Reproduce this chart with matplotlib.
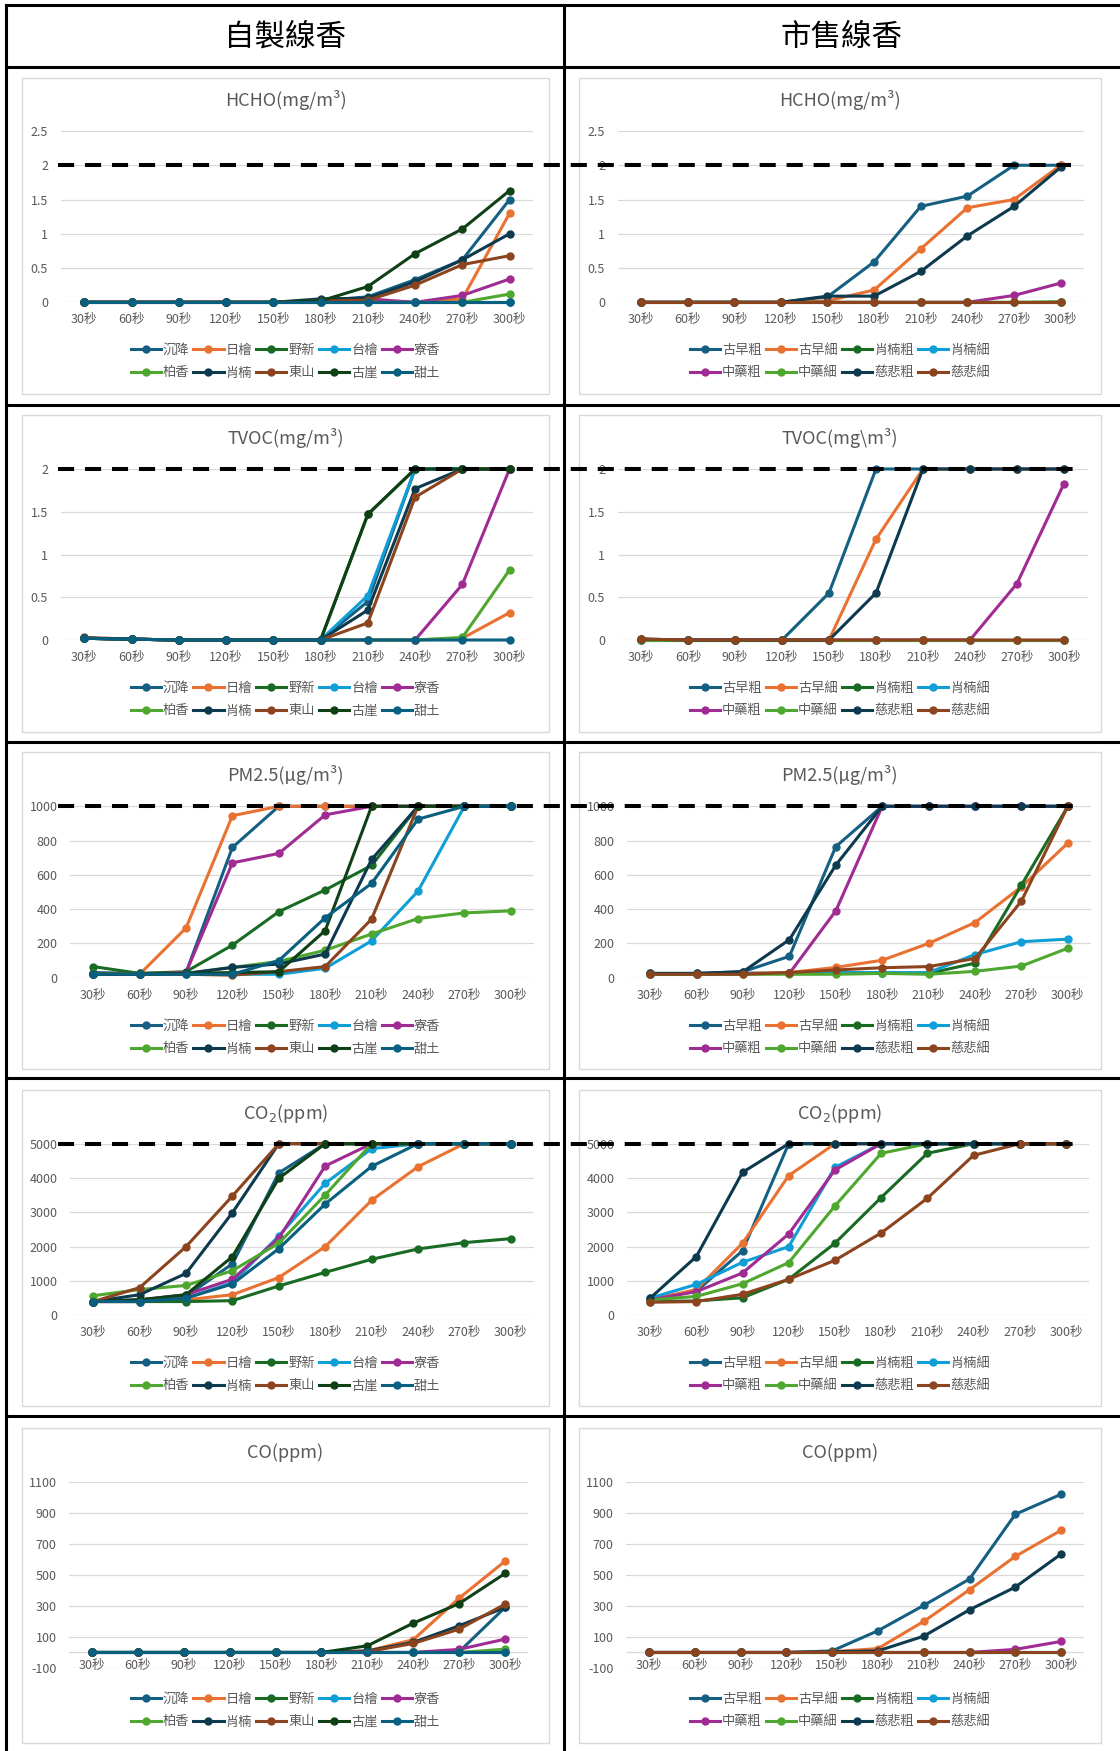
import matplotlib
matplotlib.use('Agg')
import matplotlib.pyplot as plt
from matplotlib.lines import Line2D
from matplotlib.patches import Rectangle
from matplotlib.transforms import blended_transform_factory

plt.rcParams['font.family'] = ['Noto Sans CJK TC', 'DejaVu Sans']

# ---- data ----
times = ['30秒', '60秒', '90秒', '120秒', '150秒', '180秒', '210秒', '240秒', '270秒', '300秒']
self_names = ['沉降', '日檜', '野新', '台檜', '寮香', '柏香', '肖楠', '東山', '古崖', '甜土']
store_names = ['古早粗', '古早細', '肖楠粗', '肖楠細', '中藥粗', '中藥細', '慈悲粗', '慈悲細']
limits = [2, 2, 1000, 5000]   # HCHO, TVOC, PM2.5, CO2 thresholds

hcho_self = [
    [0, 0, 0, 0, 0, 0.02, 0.08, 0.33, 0.62, 1.50],
    [0, 0, 0, 0, 0, 0, 0, 0, 0.05, 1.30],
    [0, 0, 0, 0, 0, 0, 0, 0, 0, 0],
    [0, 0, 0, 0, 0, 0, 0, 0, 0, 0],
    [0, 0, 0, 0, 0, 0, 0.05, 0, 0.10, 0.34],
    [0, 0, 0, 0, 0, 0, 0, 0, 0, 0.12],
    [0, 0, 0, 0, 0, 0.05, 0.06, 0.30, 0.62, 1.00],
    [0, 0, 0, 0, 0, 0.02, 0.03, 0.25, 0.55, 0.68],
    [0, 0, 0, 0, 0, 0.02, 0.23, 0.71, 1.07, 1.63],
    [0, 0, 0, 0, 0, 0, 0, 0, 0, 0],
]
hcho_store = [
    [0, 0, 0, 0, 0.08, 0.59, 1.40, 1.55, 2.00, 2.00],
    [0, 0, 0, 0, 0.02, 0.18, 0.78, 1.38, 1.50, 2.00],
    [0, 0, 0, 0, 0, 0, 0, 0, 0, 0],
    [0, 0, 0, 0, 0, 0, 0, 0, 0, 0],
    [0, 0, 0, 0, 0, 0, 0, 0, 0.10, 0.28],
    [0, 0, 0, 0, 0, 0, 0, 0, 0, 0.01],
    [0, 0, 0, 0, 0.09, 0.09, 0.45, 0.97, 1.40, 1.97],
    [0, 0, 0, 0, 0, 0, 0, 0, 0, 0],
]
tvoc_self = [
    [0.02, 0.01, 0, 0, 0, 0, 0.45, 2.0, 2.0, 2.0],
    [0.02, 0.01, 0, 0, 0, 0, 0, 0, 0.02, 0.32],
    [0.02, 0.01, 0, 0, 0, 0, 1.47, 2.0, 2.0, 2.0],
    [0.02, 0.01, 0, 0, 0, 0, 0.52, 2.0, 2.0, 2.0],
    [0.02, 0.01, 0, 0, 0, 0, 0, 0, 0.65, 2.0],
    [0.02, 0.01, 0, 0, 0, 0, 0, 0, 0.03, 0.82],
    [0.02, 0.01, 0, 0, 0, 0, 0.35, 1.77, 2.0, 2.0],
    [0.03, 0.01, 0, 0, 0, 0, 0.20, 1.67, 2.0, 2.0],
    [0.02, 0.01, 0, 0, 0, 0, 1.47, 2.0, 2.0, 2.0],
    [0.02, 0.01, 0, 0, 0, 0, 0, 0, 0, 0],
]
tvoc_store = [
    [0.01, 0, 0, 0, 0.55, 2.0, 2.0, 2.0, 2.0, 2.0],
    [0.01, 0, 0, 0, 0, 1.18, 2.0, 2.0, 2.0, 2.0],
    [0, 0, 0, 0, 0, 0, 0, 0, 0, 0],
    [0, 0, 0, 0, 0, 0, 0, 0, 0, 0],
    [0, 0, 0, 0, 0, 0, 0, 0, 0.66, 1.83],
    [0, 0, 0, 0, 0, 0, 0, 0, 0, 0],
    [0.01, 0, 0, 0, 0, 0.55, 2.0, 2.0, 2.0, 2.0],
    [0.01, 0, 0, 0, 0, 0, 0, 0, 0, 0],
]
pm_self = [
    [30, 25, 30, 760, 1000, 1000, 1000, 1000, 1000, 1000],
    [20, 20, 290, 945, 1000, 1000, 1000, 1000, 1000, 1000],
    [65, 25, 35, 190, 385, 512, 655, 1000, 1000, 1000],
    [20, 20, 20, 20, 20, 55, 215, 505, 1000, 1000],
    [20, 20, 30, 670, 725, 950, 1000, 1000, 1000, 1000],
    [25, 20, 25, 60, 95, 160, 255, 345, 378, 390],
    [20, 20, 25, 60, 80, 138, 690, 1000, 1000, 1000],
    [20, 20, 20, 15, 35, 65, 342, 1000, 1000, 1000],
    [20, 20, 25, 30, 35, 275, 1000, 1000, 1000, 1000],
    [20, 20, 20, 20, 100, 350, 550, 925, 1000, 1000],
]
pm_store = [
    [25, 25, 35, 125, 765, 1000, 1000, 1000, 1000, 1000],
    [20, 20, 25, 30, 60, 102, 200, 322, 530, 785],
    [20, 20, 25, 25, 30, 30, 25, 85, 540, 1000],
    [20, 20, 25, 25, 30, 30, 30, 135, 210, 225],
    [20, 20, 25, 25, 390, 1000, 1000, 1000, 1000, 1000],
    [20, 20, 20, 20, 20, 25, 20, 37, 68, 172],
    [25, 25, 35, 222, 657, 1000, 1000, 1000, 1000, 1000],
    [20, 20, 20, 30, 45, 58, 65, 112, 447, 1000],
]
co2_self = [
    [400, 450, 550, 1500, 4150, 5000, 5000, 5000, 5000, 5000],
    [400, 400, 450, 600, 1100, 2000, 3350, 4330, 5000, 5000],
    [400, 400, 400, 427, 854, 1252, 1631, 1932, 2117, 2233],
    [400, 450, 500, 950, 2310, 3845, 4854, 5000, 5000, 5000],
    [400, 450, 600, 1050, 2250, 4350, 5000, 5000, 5000, 5000],
    [570, 750, 870, 1300, 2100, 3505, 5000, 5000, 5000, 5000],
    [400, 600, 1220, 2990, 5000, 5000, 5000, 5000, 5000, 5000],
    [400, 806, 2000, 3476, 5000, 5000, 5000, 5000, 5000, 5000],
    [400, 450, 600, 1709, 3990, 5000, 5000, 5000, 5000, 5000],
    [400, 400, 500, 913, 1942, 3243, 4340, 5000, 5000, 5000],
]
co2_store = [
    [480, 700, 1880, 5000, 5000, 5000, 5000, 5000, 5000, 5000],
    [450, 750, 2100, 4070, 5000, 5000, 5000, 5000, 5000, 5000],
    [400, 420, 510, 1050, 2100, 3430, 4720, 5000, 5000, 5000],
    [500, 900, 1545, 2000, 4310, 5000, 5000, 5000, 5000, 5000],
    [450, 690, 1233, 2370, 4233, 5000, 5000, 5000, 5000, 5000],
    [450, 550, 920, 1535, 3185, 4718, 5000, 5000, 5000, 5000],
    [500, 1710, 4165, 5000, 5000, 5000, 5000, 5000, 5000, 5000],
    [380, 400, 612, 1049, 1602, 2398, 3408, 4660, 5000, 5000],
]
co_self = [
    [0, 0, 0, 0, 0, 0, 0, 0, 5, 290],
    [0, 0, 0, 0, 0, 0, 10, 82, 350, 588],
    [0, 0, 0, 0, 0, 0, 0, 0, 0, 0],
    [0, 0, 0, 0, 0, 0, 0, 0, 0, 0],
    [0, 0, 0, 0, 0, 0, 0, 0, 20, 86],
    [0, 0, 0, 0, 0, 0, 0, 0, 0, 21],
    [0, 0, 0, 0, 0, 0, 10, 65, 172, 290],
    [0, 0, 0, 0, 0, 0, 5, 58, 150, 311],
    [0, 0, 0, 0, 0, 0, 43, 189, 315, 509],
    [0, 0, 0, 0, 0, 0, 0, 0, 0, 0],
]
co_store = [
    [0, 0, 0, 0, 10, 140, 303, 473, 890, 1019],
    [0, 0, 0, 0, 5, 25, 200, 404, 619, 787],
    [0, 0, 0, 0, 0, 0, 0, 0, 0, 0],
    [0, 0, 0, 0, 0, 0, 0, 0, 0, 0],
    [0, 0, 0, 0, 0, 0, 0, 0, 20, 71],
    [0, 0, 0, 0, 0, 0, 0, 0, 0, 0],
    [0, 0, 0, 0, 5, 10, 105, 275, 421, 634],
    [0, 0, 0, 0, 0, 0, 0, 0, 0, 0],
]

colors = ['#156082', '#E97132', '#196B24', '#0F9ED5', '#A02B93',
          '#4EA72E', '#0D3A4E', '#8C441E', '#0F4016', '#095F80']
gray = '#595959'

W, H = 1120, 1751
fig = plt.figure(figsize=(W / 100, H / 100), dpi=100)


def fx(x):
    return x / W


def fy(y):
    return 1 - y / H


# table grid
for y in [5, 67, 405, 742, 1078, 1416]:
    fig.add_artist(Line2D([fx(6), 1], [fy(y), fy(y)], color='black', lw=2.2, zorder=3))
for x in [6, 564]:
    fig.add_artist(Line2D([fx(x), fx(x)], [fy(5), 0], color='black', lw=2.2, zorder=3))
fig.text(fx(285), fy(37), '自製線香', ha='center', va='center', fontsize=22, color='black')
fig.text(fx(842), fy(37), '市售線香', ha='center', va='center', fontsize=22, color='black')


def draw_chart(box, plot, title, title_y, leg_y, names, series, ylim, yticks, ncol, co=False):
    bx0, bx1, by0, by1 = box
    fig.add_artist(Rectangle((fx(bx0), fy(by1)), (bx1 - bx0) / W, (by1 - by0) / H,
                             facecolor='white', edgecolor='#D9D9D9', lw=1, zorder=-1))
    px0, px1, py0, py1 = plot
    ax = fig.add_axes([fx(px0), fy(py1), (px1 - px0) / W, (py1 - py0) / H])
    ax.set_facecolor('none')
    for s in ax.spines.values():
        s.set_visible(False)
    ax.set_axisbelow(True)
    ax.grid(axis='y', color='#D9D9D9', lw=0.9)
    if co:
        ax.axhline(0, color='#D9D9D9', lw=0.9, zorder=0.5)
    for name, vals, c in zip(names, series, colors):
        ax.plot(range(len(times)), vals, color=c, lw=2.2, marker='o', ms=5,
                label=name, clip_on=False)
    ax.set_xlim(-0.5, len(times) - 0.5)
    ax.set_ylim(*ylim)
    ax.set_yticks(yticks)
    ax.set_yticklabels([('%g' % v) for v in yticks], fontsize=9, color=gray)
    ax.set_xticks(range(len(times)))
    ax.set_xticklabels(times, fontsize=9, color=gray)
    ax.tick_params(axis='y', length=0, pad=9)
    if co:
        ax.tick_params(axis='x', length=0, pad=-6.5)
        for lbl in ax.get_xticklabels():
            lbl.set_bbox(dict(facecolor='white', edgecolor='none', pad=0.5))
    else:
        ax.tick_params(axis='x', length=0, pad=8)
    cx = (bx0 + bx1) / 2
    fig.text(fx(cx), fy(title_y), title, ha='center', va='center', fontsize=13, color=gray)
    h, l = ax.get_legend_handles_labels()
    n = len(h)
    order = []
    for i in range(ncol):
        order += [i, i + ncol]
    fig.legend([h[i] for i in order], [l[i] for i in order], loc='center',
               bbox_to_anchor=(fx(cx), fy(leg_y)), ncol=ncol, frameon=False,
               fontsize=9.5, labelcolor=gray, handlelength=2.3, handletextpad=0.15,
               columnspacing=0.3, labelspacing=0.75, borderpad=0, borderaxespad=0)
    return ax


rows = [
    # title, title_y, legend_y, box y, plot y (top, bottom), ylim, yticks, data L, data R, plot x L, plot x R
    ('HCHO(mg/m³)', 'HCHO(mg/m³)', 100, 361.5, (78, 394), (131, 302.3), (0, 2.5),
     [0, 0.5, 1, 1.5, 2, 2.5], hcho_self, hcho_store, (60.7, 533.2), (617.6, 1084)),
    ('TVOC(mg/m³)', 'TVOC(mg\\m³)', 438, 699.5, (415, 732), (469, 640), (0, 2),
     [0, 0.5, 1, 1.5, 2], tvoc_self, tvoc_store, (60.7, 533.2), (617.5, 1087.5)),
    ('PM2.5(µg/m³)', 'PM2.5(µg/m³)', 775, 1037.5, (752, 1069), (806.3, 977.7), (0, 1000),
     [0, 200, 400, 600, 800, 1000], pm_self, pm_store, (70, 534), (627, 1091)),
    ('CO$_2$(ppm)', 'CO$_2$(ppm)', 1113, 1374.5, (1090, 1406), (1143.7, 1315.3), (0, 5000),
     [0, 1000, 2000, 3000, 4000, 5000], co2_self, co2_store, (70, 534), (627, 1089)),
    ('CO(ppm)', 'CO(ppm)', 1453, 1710.5, (1428, 1743), (1481.7, 1668), (-100, 1100),
     [-100, 100, 300, 500, 700, 900, 1100], co_self, co_store, (69, 528), (626, 1084)),
]
dash_end = [1071, 1081, 1080, 1080]

for k, (tl, tr, ty, ly, (by0, by1), (py0, py1), ylim, yt, dl, dr, pxl, pxr) in enumerate(rows):
    is_co = (k == 4)
    axl = draw_chart((22, 549, by0, by1), (pxl[0], pxl[1], py0, py1), tl, ty, ly,
                     self_names, dl, ylim, yt, 5, co=is_co)
    draw_chart((578.6, 1101, by0, by1), (pxr[0], pxr[1], py0, py1), tr, ty, ly,
               store_names, dr, ylim, yt, 4, co=is_co)
    if k < 4:
        tr_ = blended_transform_factory(fig.transFigure, axl.transData)
        fig.add_artist(Line2D([fx(58), fx(dash_end[k])], [limits[k], limits[k]], transform=tr_,
                              color='black', lw=2.9, dashes=(4.0, 2.7), zorder=5))

fig.savefig('out.png', dpi=100)
